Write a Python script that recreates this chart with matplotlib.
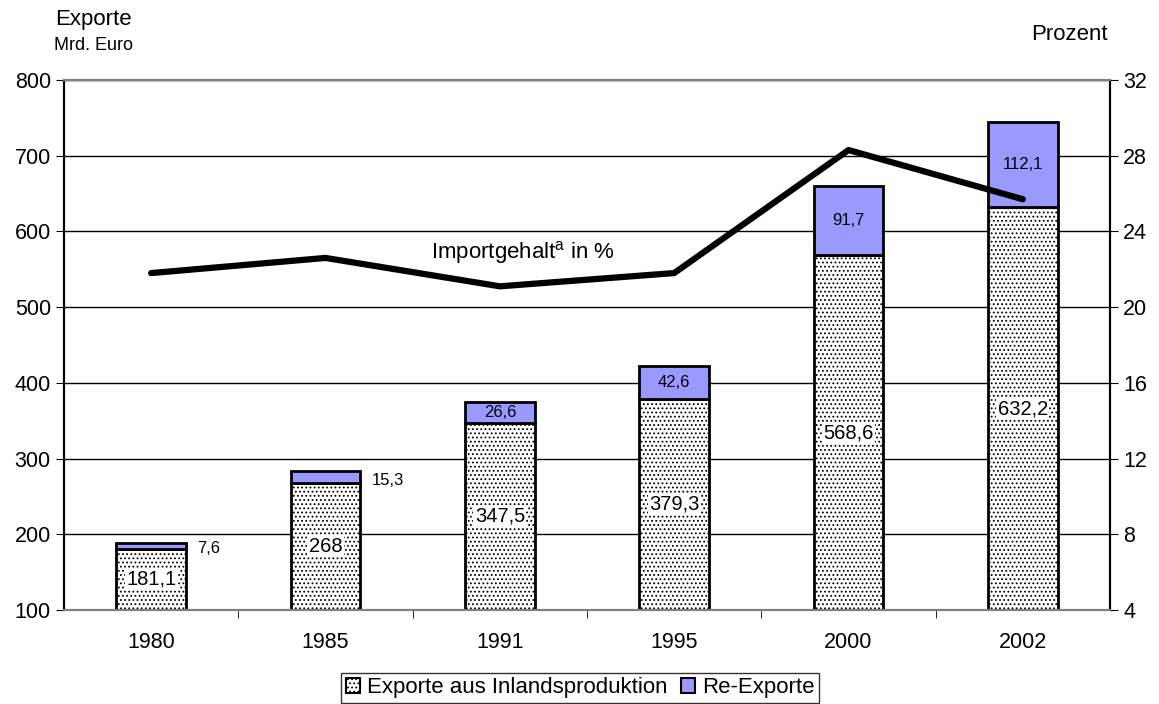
import matplotlib
matplotlib.use('Agg')
import matplotlib.pyplot as plt
import matplotlib.patches as mpatches
import numpy as np

plt.rcParams['font.family'] = ['Liberation Sans', 'DejaVu Sans']
plt.rcParams['hatch.linewidth'] = 0.8

years = ['1980', '1985', '1991', '1995', '2000', '2002']
inland = [181.1, 268, 347.5, 379.3, 568.6, 632.2]
reexport = [7.6, 15.3, 26.6, 42.6, 91.7, 112.1]
inland_labels = ['181,1', '268', '347,5', '379,3', '568,6', '632,2']
reexport_labels = ['7,6', '15,3', '26,6', '42,6', '91,7', '112,1']
importgehalt = [21.8, 22.6, 21.1, 21.8, 28.3, 25.7]

blue = '#9999FF'

fig = plt.figure(figsize=(11.59, 7.04), dpi=100)
ax = fig.add_axes([64 / 1159, 1 - 610 / 704, (1110 - 64) / 1159, (610 - 80) / 704])
ax2 = ax.twinx()

x = np.arange(len(years))
w = 0.40
base = 100
ax.bar(x, np.array(inland) - base, w, bottom=base, color='white', edgecolor='black',
       linewidth=2, hatch='....', zorder=3)
ax.bar(x, reexport, w, bottom=inland, color=blue, edgecolor='black', linewidth=2, zorder=3)

ax.set_xlim(-0.5, len(years) - 0.5)
ax.set_ylim(100, 800)
ax.set_yticks(range(100, 801, 100))
ax.yaxis.grid(True, color='black', linewidth=1)
ax.set_axisbelow(True)
ax.set_xticks(x)
ax.set_xticklabels(years, fontsize=15.5)
ax.set_xticks(np.arange(0.5, len(years) - 0.5, 1), minor=True)
ax.tick_params(axis='x', which='major', length=0, pad=16)
ax.tick_params(axis='x', which='minor', length=6, color='black', direction='out')
ax.tick_params(axis='y', labelsize=15.5, length=6, direction='out')

for i in range(len(years)):
    mid = base + (inland[i] - base) / 2
    ax.text(x[i], mid, inland_labels[i], ha='center', va='center', fontsize=14.5, zorder=5,
            bbox=dict(facecolor='white', edgecolor='none', pad=1))
    if reexport[i] < 20:
        ax.text(x[i] + w / 2 + 0.065, inland[i] + reexport[i] / 2 - 4, reexport_labels[i],
                ha='left', va='center', fontsize=12, zorder=5)
    else:
        ax.text(x[i], inland[i] + reexport[i] / 2, reexport_labels[i], ha='center', va='center',
                fontsize=12, zorder=5)

ax2.plot(x, importgehalt, color='black', linewidth=4.5, solid_capstyle='round', zorder=4)
ax2.set_ylim(4, 32)
ax2.set_yticks(range(4, 33, 4))
ax2.tick_params(axis='y', labelsize=15.5, length=6, direction='out')
ax2.text(2.135, 22.9, 'Importgehalt$^{\\mathregular{a}}$ in %', ha='center', va='center', fontsize=16)

for a in (ax, ax2):
    a.spines['top'].set_color('#808080')
    a.spines['bottom'].set_color('#808080')
    a.spines['left'].set_color('black')
    a.spines['right'].set_color('black')
    for s in a.spines.values():
        s.set_linewidth(1.5)

fig.text(93 / 1159, 1 - 20 / 704, 'Exporte', ha='center', va='center', fontsize=16)
fig.text(93 / 1159, 1 - 45 / 704, 'Mrd. Euro', ha='center', va='center', fontsize=13)
fig.text(1069 / 1159, 1 - 35 / 704, 'Prozent', ha='center', va='center', fontsize=16)

handles = [mpatches.Patch(facecolor='white', edgecolor='black', hatch='....', linewidth=1.5),
           mpatches.Patch(facecolor=blue, edgecolor='black', linewidth=1.5)]
leg = fig.legend(handles, ['Exporte aus Inlandsproduktion', 'Re-Exporte'], loc='center',
                 bbox_to_anchor=(580 / 1159, 1 - 688 / 704), ncol=2, fontsize=16, frameon=True,
                 fancybox=False, edgecolor='black', handlelength=0.65, handleheight=0.65,
                 handletextpad=0.3, columnspacing=0.6, borderpad=0.2, borderaxespad=0)
leg.get_frame().set_linewidth(1)

fig.savefig('out.png', dpi=100)
